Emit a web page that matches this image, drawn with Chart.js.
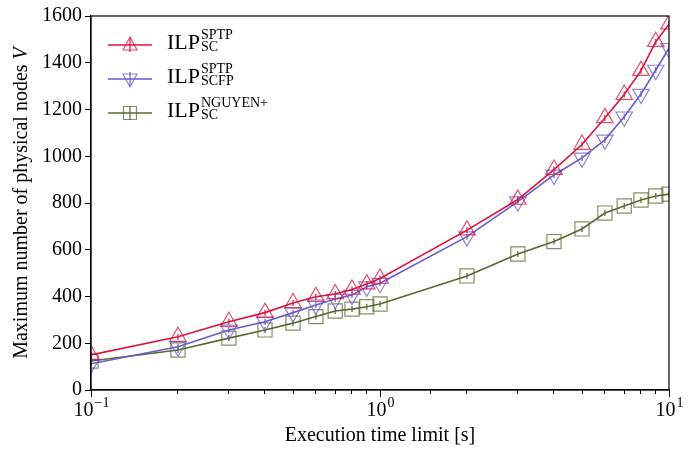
<!DOCTYPE html>
<html>
<head>
<meta charset="utf-8">
<script src="https://cdn.jsdelivr.net/npm/chart.js@4.4.1/dist/chart.umd.min.js"></script>
<style>
  html, body { margin: 0; padding: 0; background: #fff; }
</style>
</head>
<body>
<canvas id="nodesChart" width="694" height="452"></canvas>
<script>
// Execution time limits (s) and max number of physical nodes per method
const timeLimits = [0.1, 0.2, 0.3, 0.4, 0.5, 0.6, 0.7, 0.8, 0.9, 1, 2, 3, 4, 5, 6, 7, 8, 9, 10];
const sptpSc = [150, 228, 292, 331, 372, 399, 411, 430, 453, 477, 684, 815, 943, 1050, 1164, 1264, 1366, 1490, 1565];
const sptpScfp = [112, 185, 257, 292, 331, 364, 389, 406, 442, 457, 656, 806, 920, 993, 1070, 1169, 1266, 1369, 1462];
const nguyenSc = [124, 171, 222, 257, 286, 314, 338, 346, 356, 368, 488, 582, 635, 689, 757, 787, 813, 830, 838];
const yTicks = [0, 200, 400, 600, 800, 1000, 1200, 1400, 1600];
const xMajor = [{ v: 0.1, exp: '\u22121' }, { v: 1, exp: '0' }, { v: 10, exp: '1' }];

const FONT = '"Liberation Serif", "DejaVu Serif", serif';

const RED = '#dc143c';
const BLUE = '#6a5acd';
const GREEN = '#556b2f';

const pts = (ys) => timeLimits.map((x, i) => ({ x: x, y: ys[i] }));

const series = [
    { sup: 'SPTP', sub: 'SC', color: RED, marker: 'up', data: sptpSc },
    { sup: 'SPTP', sub: 'SCFP', color: BLUE, marker: 'down', data: sptpScfp },
    { sup: 'NGUYEN+', sub: 'SC', color: GREEN, marker: 'square', data: nguyenSc }
];

function markerColor(c) {
    // lighter, semi transparent marker edges like the reference
    const r = parseInt(c.slice(1, 3), 16), g = parseInt(c.slice(3, 5), 16), b = parseInt(c.slice(5, 7), 16);
    return `rgba(${r}, ${g}, ${b}, 0.75)`;
}

const datasets = [];
series.forEach((s) => {
    datasets.push({
        label: s.sub,
        data: pts(s.data),
        borderColor: s.color,
        borderWidth: 1.6,
        pointStyle: s.marker === 'square' ? 'rect' : 'triangle',
        rotation: s.marker === 'down' ? 180 : 0,
        pointRadius: s.marker === 'square' ? 10 : 9.5,
        pointBorderColor: markerColor(s.color),
        pointBackgroundColor: 'rgba(0,0,0,0)',
        pointBorderWidth: 1.2,
        pointHoverRadius: 9,
        tension: 0,
        clip: 0
    });
    // small vertical error bar ticks at each point
    datasets.push({
        label: s.sub + ' err',
        data: pts(s.data),
        showLine: false,
        pointStyle: 'line',
        rotation: 90,
        pointRadius: 3,
        pointBorderColor: s.color,
        pointBorderWidth: 1.2,
        clip: 0
    });
});

// frame, major x ticks, x tick labels, y title, legend
const decorPlugin = {
    id: 'decor',
    afterDraw(chart) {
        const ctx = chart.ctx;
        const area = chart.chartArea;
        const xs = chart.scales.x;
        ctx.save();
        ctx.strokeStyle = '#000';
        ctx.lineWidth = 1.2;
        ctx.strokeRect(area.left, area.top, area.right - area.left, area.bottom - area.top);

        // longer major ticks
        ctx.lineWidth = 1;
        xMajor.forEach((m) => {
            const px = Math.round(xs.getPixelForValue(m.v)) + 0.5;
            ctx.beginPath();
            ctx.moveTo(px, area.bottom);
            ctx.lineTo(px, area.bottom + 7);
            ctx.stroke();
        });

        // x tick labels 10^n
        ctx.fillStyle = '#000';
        ctx.textBaseline = 'alphabetic';
        xMajor.forEach((m) => {
            const px = xs.getPixelForValue(m.v);
            ctx.font = `20px ${FONT}`;
            const wBase = ctx.measureText('10').width;
            ctx.font = `14px ${FONT}`;
            const wExp = ctx.measureText(m.exp).width;
            const left = px - (wBase + wExp) / 2;
            ctx.font = `20px ${FONT}`;
            ctx.textAlign = 'left';
            ctx.fillText('10', left, 416);
            ctx.font = `14px ${FONT}`;
            ctx.fillText(m.exp, left + wBase + 1, 407);
        });

        // y title with italic V
        ctx.save();
        ctx.translate(27, (area.top + area.bottom) / 2);
        ctx.rotate(-Math.PI / 2);
        const main = 'Maximum number of physical nodes ';
        ctx.font = `20px ${FONT}`;
        const w1 = ctx.measureText(main).width;
        ctx.font = `italic 20px ${FONT}`;
        const w2 = ctx.measureText('V').width;
        const start = -(w1 + w2) / 2;
        ctx.textAlign = 'left';
        ctx.font = `20px ${FONT}`;
        ctx.fillText(main, start, 0);
        ctx.font = `italic 20px ${FONT}`;
        ctx.fillText('V', start + w1, 0);
        ctx.restore();

        // legend
        const rows = [45, 79, 113];
        series.forEach((s, i) => {
            const y = rows[i];
            ctx.strokeStyle = s.color;
            ctx.lineWidth = 1.6;
            ctx.beginPath();
            ctx.moveTo(108, y);
            ctx.lineTo(152, y);
            ctx.stroke();
            ctx.lineWidth = 1.2;
            ctx.beginPath();
            ctx.moveTo(130, y - 7);
            ctx.lineTo(130, y + 7);
            ctx.stroke();
            ctx.strokeStyle = markerColor(s.color);
            ctx.beginPath();
            if (s.marker === 'up') {
                ctx.moveTo(130, y - 8);
                ctx.lineTo(130 - 7, y + 5);
                ctx.lineTo(130 + 7, y + 5);
                ctx.closePath();
            } else if (s.marker === 'down') {
                ctx.moveTo(130, y + 8);
                ctx.lineTo(130 - 7, y - 5);
                ctx.lineTo(130 + 7, y - 5);
                ctx.closePath();
            } else {
                ctx.rect(130 - 6.5, y - 6.5, 13, 13);
            }
            ctx.stroke();

            ctx.fillStyle = '#000';
            ctx.textAlign = 'left';
            ctx.font = `22px ${FONT}`;
            ctx.fillText('ILP', 167, y + 4);
            const w = ctx.measureText('ILP').width;
            ctx.font = `14px ${FONT}`;
            ctx.fillText(s.sup, 167 + w + 1, y - 6);
            ctx.fillText(s.sub, 167 + w + 1, y + 6);
        });
        ctx.restore();
    }
};

new Chart(document.getElementById('nodesChart'), {
    type: 'line',
    data: { datasets: datasets },
    options: {
        responsive: false,
        animation: false,
        layout: { padding: { left: 0, right: 25, top: 16, bottom: 0 } },
        plugins: {
            legend: { display: false },
            tooltip: { enabled: false }
        },
        scales: {
            x: {
                type: 'logarithmic',
                min: 0.1,
                max: 10,
                afterFit: (scale) => { scale.height = 62; },
                border: { display: true, color: '#000', width: 1.2 },
                grid: { drawOnChartArea: false, drawTicks: true, tickLength: 4, color: '#000' },
                ticks: {
                    autoSkip: false,
                    maxRotation: 0,
                    callback: () => ''
                },
                title: {
                    display: true,
                    text: 'Execution time limit [s]',
                    color: '#000',
                    font: { family: FONT, size: 20 },
                    padding: { top: 0, bottom: 4 }
                }
            },
            y: {
                min: 0,
                max: 1600,
                afterFit: (scale) => { scale.width = 91; },
                afterBuildTicks: (scale) => { scale.ticks = yTicks.map((v) => ({ value: v })); },
                border: { display: true, color: '#000', width: 1.2 },
                grid: { drawOnChartArea: false, drawTicks: true, tickLength: 6, color: '#000' },
                ticks: {
                    color: '#000',
                    padding: 3,
                    font: { family: FONT, size: 20 },
                    callback: (v) => String(v)
                }
            }
        }
    },
    plugins: [decorPlugin]
});
</script>
</body>
</html>
